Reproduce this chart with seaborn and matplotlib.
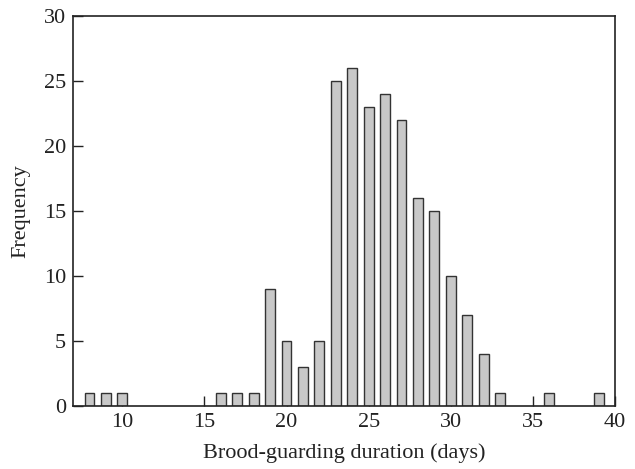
import matplotlib
matplotlib.use("Agg")
import matplotlib.pyplot as plt
import seaborn as sns
import pandas as pd

days = [8, 9, 10, 16, 17, 18, 19, 20, 21, 22, 23, 24, 25, 26, 27, 28, 29, 30, 31, 32, 33, 36, 39]
freq = [1, 1, 1, 1, 1, 1, 9, 5, 3, 5, 25, 26, 23, 24, 22, 16, 15, 10, 7, 4, 1, 1, 1]
xticks = [10, 15, 20, 25, 30, 35, 40]
yticks = [0, 5, 10, 15, 20, 25, 30]

sns.set_theme(style="ticks")
plt.rcParams['font.family'] = ['Liberation Serif', 'DejaVu Serif']

df = pd.DataFrame({"days": days, "freq": freq})
fig = plt.figure(figsize=(6.35, 4.69), dpi=100)
ax = fig.add_axes([0.115, 0.134, 0.8535, 0.832])
sns.barplot(data=df, x="days", y="freq", native_scale=True, width=0.6,
            color="#c8c8c8", edgecolor="#333333", linewidth=1.0, saturation=1, ax=ax)
ax.set_xlim(7, 40)
ax.set_ylim(0, 30)
ax.set_xticks(xticks)
ax.set_yticks(yticks)
ax.tick_params(direction="in", length=7, width=1, labelsize=16, colors="#222222",
               top=False, right=False, pad=5)
for s in ax.spines.values():
    s.set_color("#222222")
    s.set_linewidth(1.2)
ax.set_xlabel("Brood-guarding duration (days)", fontsize=16, color="#222222", labelpad=8)
ax.set_ylabel("Frequency", fontsize=16, color="#222222", labelpad=10)
fig.savefig("out.png", dpi=100)
